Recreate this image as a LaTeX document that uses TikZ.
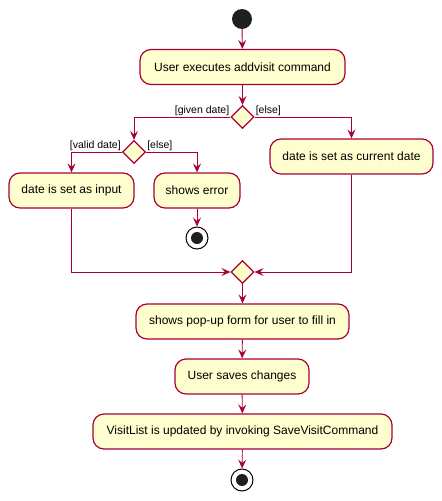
\documentclass[tikz,border=0pt]{standalone}
\usepackage{fontspec}
\setmainfont{Liberation Sans}
\usetikzlibrary{shapes.geometric,arrows.meta}
\definecolor{umlred}{HTML}{A80036}
\definecolor{umlfill}{HTML}{FEFECE}
\tikzset{
  act/.style={draw=umlred, fill=umlfill, line width=1.2pt, rounded corners=11pt, minimum height=35pt, inner xsep=9pt, font=\fontsize{12}{14}\selectfont},
  dec/.style={draw=umlred, fill=umlfill, line width=1.2pt, diamond, minimum width=23pt, minimum height=23pt, inner sep=0pt},
  flow/.style={draw=umlred, line width=0.9pt, -{Stealth[length=9pt,width=8pt,inset=3.5pt]}},
  lbl/.style={font=\fontsize{10.5}{12}\selectfont, inner sep=1pt},
  startdot/.style={circle, fill=black!88, minimum size=20pt, inner sep=0pt},
  endring/.style={circle, draw=black, fill=white, line width=1pt, minimum size=22pt, inner sep=0pt},
  enddot/.style={circle, fill=black!88, minimum size=12pt, inner sep=0pt}
}
\begin{document}
\begin{tikzpicture}[x=1pt, y=-1pt]
\useasboundingbox (0,0) rectangle (442,501);
\node[startdot] (start) at (242,19) {};
\node[act, minimum width=205pt] (b1) at (242.5,67) {User executes addvisit command};
\node[dec] (d1) at (242.5,117) {};
\node[dec] (d2) at (134,152) {};
\node[act, minimum width=163pt] (cur) at (351.5,156.5) {date is set as current date};
\node[act, minimum width=125pt] (inp) at (71.5,190.5) {date is set as input};
\node[act, minimum width=86pt] (err) at (197,190.5) {shows error};
\node[endring] (stopA) at (197,238) {};
\node[enddot] (stopAin) at (197,238) {};
\node[dec] (merge) at (242.5,272) {};
\node[act, minimum width=213pt] (pop) at (242.5,321.5) {shows pop-up form for user to fill in};
\node[act, minimum width=134pt] (save) at (242,376.5) {User saves changes};
\node[act, minimum width=299pt] (upd) at (242.5,431.5) {VisitList is updated by invoking SaveVisitCommand};
\node[endring] (stopB) at (242,480) {};
\node[enddot] (stopBin) at (242,480) {};

\node[lbl, anchor=south east] (lg) at (d1.west) {[given date]};
\node[lbl, anchor=south west] (le1) at (d1.east) {[else]};
\node[lbl, anchor=south east] (lv) at (d2.west) {[valid date]};
\node[lbl, anchor=south west] (le2) at (d2.east) {[else]};

\draw[flow] (start) -- (b1);
\draw[flow] (b1) -- (d1);
\draw[flow] (d1.west) -| (d2.north);
\draw[flow] (d1.east) -| (cur.north);
\draw[flow] (d2.west) -| (inp.north);
\draw[flow] (d2.east) -| (err.north);
\draw[flow] (err) -- (stopA);
\draw[flow] (inp.south) |- (merge.west);
\draw[flow] (cur.south) |- (merge.east);
\draw[flow] (merge) -- (pop);
\draw[flow] (pop) -- (save);
\draw[flow] (save) -- (upd);
\draw[flow] (upd) -- (stopB);
\end{tikzpicture}
\end{document}
